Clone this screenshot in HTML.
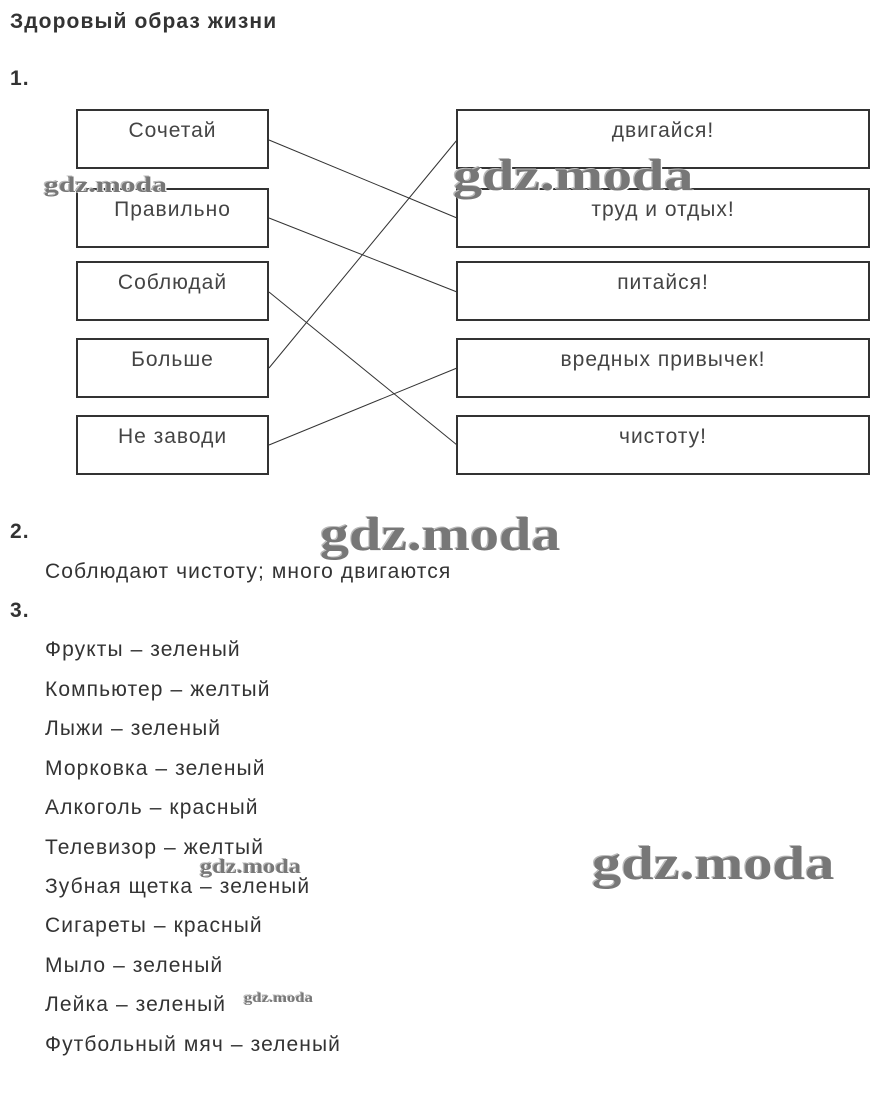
<!DOCTYPE html>
<html><head><meta charset="utf-8"><style>
body{margin:0;background:#fff;width:880px;height:1103px;position:relative;overflow:hidden;font-family:"Liberation Sans",sans-serif;color:#333}
.t{position:absolute;font-size:21px;line-height:24px;white-space:nowrap;letter-spacing:1.1px}
.b{position:absolute;border:2px solid #333;box-sizing:border-box;height:60px;font-size:21px;letter-spacing:1px;text-align:center;padding-top:8px;color:#444}
.wm{position:absolute;font-family:"Liberation Serif",serif;font-weight:bold;color:#777;white-space:nowrap;text-shadow:1px 1px 0 #fff,-1px -1px 0 #bbb;transform-origin:0 0}
</style></head><body>
<div class="t" style="left:10px;top:10px;font-weight:bold;color:#333">Здоровый образ жизни</div>
<div class="t" style="left:10px;top:67px;font-weight:bold">1.</div>
<div class="b" style="left:76px;top:109px;width:193px">Сочетай</div>
<div class="b" style="left:76px;top:188px;width:193px">Правильно</div>
<div class="b" style="left:76px;top:261px;width:193px">Соблюдай</div>
<div class="b" style="left:76px;top:338px;width:193px">Больше</div>
<div class="b" style="left:76px;top:415px;width:193px">Не заводи</div>
<div class="b" style="left:456px;top:109px;width:414px">двигайся!</div>
<div class="b" style="left:456px;top:188px;width:414px">труд и отдых!</div>
<div class="b" style="left:456px;top:261px;width:414px">питайся!</div>
<div class="b" style="left:456px;top:338px;width:414px">вредных привычек!</div>
<div class="b" style="left:456px;top:415px;width:414px">чистоту!</div>
<svg style="position:absolute;left:0;top:0" width="880" height="500">
<g stroke="#333" stroke-width="1">
<line x1="269" y1="140" x2="457" y2="218"/>
<line x1="269" y1="218" x2="457" y2="292"/>
<line x1="269" y1="292" x2="457" y2="445"/>
<line x1="269" y1="368" x2="457" y2="140"/>
<line x1="269" y1="445" x2="457" y2="368"/>
</g></svg>
<div class="t" style="left:10px;top:520px;font-weight:bold">2.</div>
<div class="t" style="left:45px;top:560px">Соблюдают чистоту; много двигаются</div>
<div class="t" style="left:10px;top:599px;font-weight:bold">3.</div>
<div class="t" style="left:45px;top:638px">Фрукты – зеленый</div>
<div class="t" style="left:45px;top:678px">Компьютер – желтый</div>
<div class="t" style="left:45px;top:717px">Лыжи – зеленый</div>
<div class="t" style="left:45px;top:757px">Морковка – зеленый</div>
<div class="t" style="left:45px;top:796px">Алкоголь – красный</div>
<div class="t" style="left:45px;top:836px">Телевизор – желтый</div>
<div class="t" style="left:45px;top:875px">Зубная щетка – зеленый</div>
<div class="t" style="left:45px;top:914px">Сигареты – красный</div>
<div class="t" style="left:45px;top:954px">Мыло – зеленый</div>
<div class="t" style="left:45px;top:993px">Лейка – зеленый</div>
<div class="t" style="left:45px;top:1033px">Футбольный мяч – зеленый</div>
<div class="wm" style="left:44px;top:172px;font-size:22px;transform:scaleX(1.35)">gdz.moda</div>
<div class="wm" style="left:453px;top:150px;font-size:44px;transform:scaleX(1.32)">gdz.moda</div>
<div class="wm" style="left:320px;top:507px;font-size:48px;transform:scaleX(1.21)">gdz.moda</div>
<div class="wm" style="left:200px;top:856px;font-size:20px;transform:scaleX(1.22)">gdz.moda</div>
<div class="wm" style="left:592px;top:836px;font-size:48px;transform:scaleX(1.22)">gdz.moda</div>
<div class="wm" style="left:244px;top:991px;font-size:14px;transform:scaleX(1.19)">gdz.moda</div>
</body></html>
